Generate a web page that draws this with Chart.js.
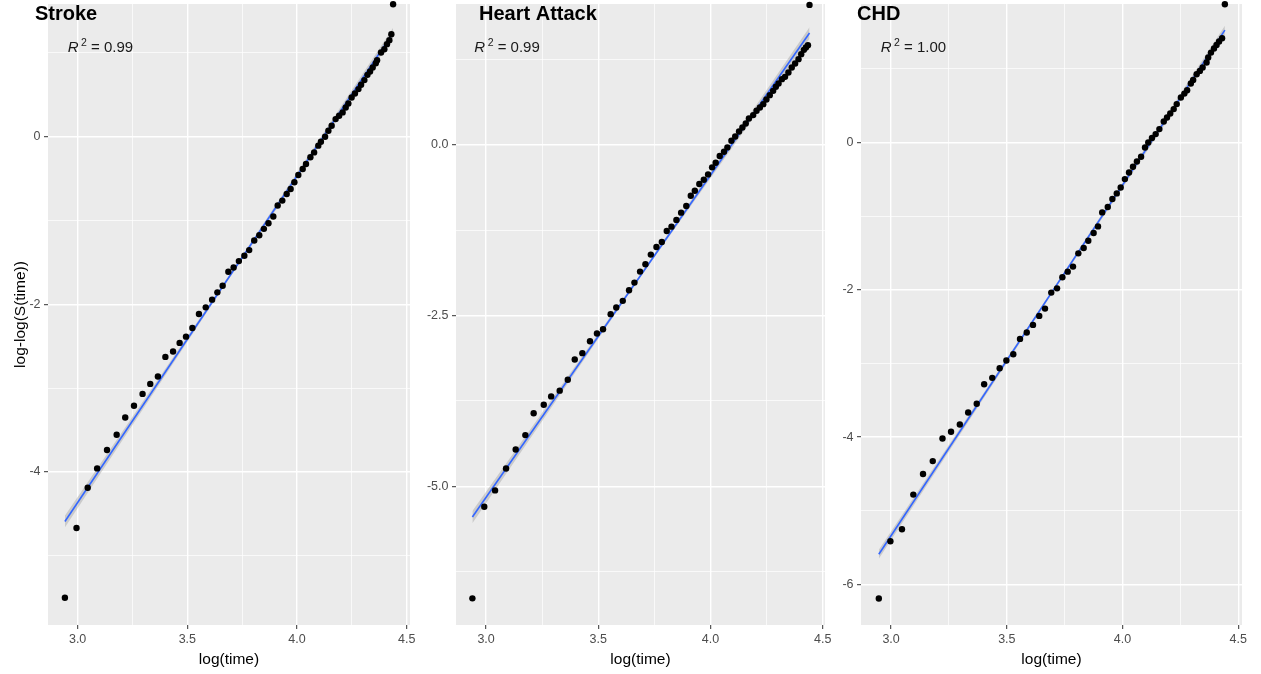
<!DOCTYPE html>
<html><head><meta charset="utf-8">
<script src="https://cdn.jsdelivr.net/npm/chart.js@4.4.1/dist/chart.umd.min.js"></script>
<style>
html,body{margin:0;padding:0;background:#fff;}
#wrap{position:relative;width:1261px;height:674px;overflow:hidden;background:#fff;}
canvas{position:absolute;left:0;top:0;}
</style></head><body>
<div id="wrap">
<canvas id="c1" width="1261" height="674"></canvas>
<canvas id="c2" width="1261" height="674"></canvas>
<canvas id="c3" width="1261" height="674"></canvas>
</div>
<script>
// ---------------- DATA ----------------
const panelTitles = ['Stroke', 'Heart Attack', 'CHD'];
const r2Values = ['0.99', '0.99', '1.00'];
const xAxisTitle = 'log(time)';
const yAxisTitle = 'log-log(S(time))';

const xTickMajor = [3.0, 3.5, 4.0, 4.5];
const xTickMinor = [3.25, 3.75, 4.25];
const xTickLabels = ['3.0', '3.5', '4.0', '4.5'];

const strokeYMajor = [-4, -2, 0];
const strokeYMinor = [-5, -3, -1, 1];
const strokeYLabels = ['-4', '-2', '0'];
const heartYMajor = [-5, -2.5, 0];
const heartYMinor = [-6.25, -3.75, -1.25, 1.25];
const heartYLabels = ['-5.0', '-2.5', '0.0'];
const chdYMajor = [-6, -4, -2, 0];
const chdYMinor = [-5, -3, -1, 1];
const chdYLabels = ['-6', '-4', '-2', '0'];

const strokeX = [2.942,2.995,3.046,3.089,3.134,3.178,3.217,3.257,3.296,3.331,3.366,3.400,3.435,3.465,3.494,3.523,3.553,3.584,3.613,3.637,3.661,3.687,3.711,3.735,3.760,3.782,3.805,3.828,3.849,3.870,3.892,
  3.912,3.933,3.953,3.971,3.988,4.006,4.026,4.041,4.061,4.078,4.097,4.109,4.128,4.143,4.158,4.176,4.192,4.208,4.222,4.234,4.249,4.264,4.280,4.292,4.307,4.321,4.333,4.345,4.359,4.365,4.383,4.398,4.410,4.421,4.430,4.438];
const strokeY = [-5.50,-4.667,-4.187,-3.957,-3.738,-3.556,-3.349,-3.21,-3.068,-2.949,-2.861,-2.627,-2.563,-2.460,-2.385,-2.282,-2.115,-2.036,-1.944,-1.857,-1.778,-1.611,-1.56,-1.484,-1.42,-1.353,-1.238,-1.175,-1.099,-1.032,-0.952,
  -0.821,-0.762,-0.683,-0.623,-0.544,-0.456,-0.385,-0.325,-0.246,-0.187,-0.107,-0.06,0.0,0.071,0.131,0.21,0.25,0.29,0.349,0.396,0.468,0.516,0.568,0.619,0.675,0.738,0.778,0.825,0.877,0.913,1.004,1.044,1.104,1.151,1.223,1.58];

const heartX = [2.939,2.992,3.040,3.089,3.132,3.175,3.212,3.257,3.290,3.328,3.364,3.395,3.429,3.463,3.494,3.521,3.555,3.580,3.609,3.637,3.661,3.686,3.710,3.734,3.759,3.783,3.805,3.826,3.848,3.869,3.892,
  3.912,3.930,3.950,3.970,3.989,4.007,4.023,4.041,4.060,4.075,4.093,4.110,4.127,4.142,4.157,4.171,4.190,4.205,4.220,4.235,4.249,4.264,4.279,4.291,4.303,4.318,4.332,4.347,4.362,4.377,4.392,4.404,4.416,4.425,4.434,4.441];
const heartY = [-6.64,-5.30,-5.06,-4.74,-4.46,-4.25,-3.93,-3.806,-3.684,-3.60,-3.44,-3.143,-3.051,-2.876,-2.763,-2.70,-2.48,-2.383,-2.285,-2.13,-2.018,-1.857,-1.75,-1.608,-1.496,-1.423,-1.262,-1.199,-1.10,-0.994,-0.896,
  -0.746,-0.673,-0.575,-0.512,-0.434,-0.331,-0.263,-0.165,-0.102,-0.039,0.058,0.121,0.194,0.253,0.311,0.384,0.434,0.497,0.545,0.594,0.662,0.726,0.789,0.848,0.896,0.96,0.994,1.057,1.13,1.189,1.253,1.326,1.389,1.423,1.458,2.047];

const chdX = [2.947,2.997,3.047,3.096,3.138,3.180,3.222,3.259,3.297,3.333,3.370,3.402,3.437,3.469,3.498,3.528,3.557,3.586,3.613,3.640,3.665,3.692,3.717,3.740,3.763,3.786,3.809,3.832,3.852,3.875,3.894,3.912,3.936,
  3.956,3.975,3.992,4.010,4.028,4.045,4.062,4.080,4.097,4.111,4.127,4.143,4.159,4.178,4.192,4.206,4.221,4.234,4.252,4.267,4.279,4.295,4.305,4.320,4.334,4.346,4.363,4.370,4.382,4.395,4.406,4.417,4.430,4.442];
const chdY = [-6.19,-5.414,-5.25,-4.78,-4.50,-4.325,-4.018,-3.927,-3.828,-3.665,-3.547,-3.281,-3.195,-3.064,-2.96,-2.874,-2.666,-2.58,-2.476,-2.354,-2.255,-2.038,-1.98,-1.83,-1.753,-1.685,-1.505,-1.432,-1.333,-1.229,-1.139,-0.949,-0.876,
  -0.768,-0.691,-0.61,-0.497,-0.407,-0.33,-0.258,-0.194,-0.068,0.0,0.06,0.114,0.182,0.285,0.339,0.393,0.453,0.521,0.61,0.664,0.71,0.8,0.85,0.927,0.972,1.017,1.085,1.153,1.22,1.275,1.325,1.37,1.416,1.877];

// fitted lines and their confidence bands
const strokeFitX = [2.942, 4.438];
const strokeFitY = [-4.59, 1.24];
const strokeBandX = [2.942, 3.69, 4.438];
const strokeBandHi = [-4.52, -1.655, 1.30];
const strokeBandLo = [-4.66, -1.695, 1.18];

const heartFitX = [2.939, 4.441];
const heartFitY = [-5.45, 1.636];
const heartBandX = [2.939, 3.69, 4.441];
const heartBandHi = [-5.36, -1.885, 1.72];
const heartBandLo = [-5.54, -1.925, 1.55];

const chdFitX = [2.947, 4.442];
const chdFitY = [-5.59, 1.526];
const chdBandX = [2.947, 3.695, 4.442];
const chdBandHi = [-5.53, -2.012, 1.586];
const chdBandLo = [-5.65, -2.052, 1.466];

// ---------------- DRAWING ----------------
const FONT = "'Liberation Sans', Arial, Helvetica, sans-serif";
const pts = (xs, ys) => xs.map((x, i) => ({x: x, y: ys[i]}));

const decor = {
  id: 'decor',
  beforeDraw(chart, args, o) {
    const {ctx, chartArea: a} = chart;
    ctx.save();
    ctx.fillStyle = '#EBEBEB';
    ctx.fillRect(a.left, a.top, a.right - a.left, a.bottom - a.top);
    ctx.restore();
  },
  afterDraw(chart, args, o) {
    const ctx = chart.ctx;
    ctx.save();
    ctx.textAlign = 'left';
    ctx.textBaseline = 'alphabetic';
    ctx.fillStyle = '#000';
    ctx.font = 'bold 20px ' + FONT;
    ctx.fillText(o.title, o.titleX, 20);
    let x = o.rX;
    const base = 52;
    ctx.fillStyle = '#1a1a1a';
    ctx.font = 'italic 15px ' + FONT;
    ctx.fillText('R', x, base);
    x += ctx.measureText('R').width + 2.5;
    ctx.font = '10.5px ' + FONT;
    ctx.fillText('2', x, base - 6);
    x += ctx.measureText('2').width;
    ctx.font = '15px ' + FONT;
    ctx.fillText(' = ' + o.r2, x, base);
    ctx.restore();
  }
};

function axisCfg(opts) {
  const all = opts.major.concat(opts.minor).sort((a, b) => a - b);
  const isMajor = v => opts.major.indexOf(v) >= 0;
  return {
    type: 'linear',
    min: opts.min,
    max: opts.max,
    afterBuildTicks: s => { s.ticks = all.map(v => ({value: v})); },
    afterFit: s => {
      if (opts.axis === 'x') { s.height = opts.size; s.paddingLeft = 0; s.paddingRight = 0; }
      else { s.width = opts.size; s.paddingTop = 0; s.paddingBottom = 0; }
    },
    border: {display: false},
    grid: {
      color: '#FFFFFF',
      lineWidth: c => (c.tick && isMajor(c.tick.value)) ? 1.4 : 0.7,
      drawTicks: true,
      tickLength: 4,
      tickWidth: 1,
      tickColor: c => (c.tick && isMajor(c.tick.value)) ? '#333333' : 'rgba(0,0,0,0)'
    },
    ticks: {
      autoSkip: false,
      maxRotation: 0,
      minRotation: 0,
      padding: 3.5,
      color: '#4D4D4D',
      font: {family: FONT, size: 12.5},
      callback: v => { const i = opts.major.indexOf(v); return i >= 0 ? opts.labels[i] : ''; }
    },
    title: opts.title ? {
      display: true, text: opts.title, color: '#000',
      font: {family: FONT, size: 15.5},
      padding: opts.titlePad
    } : {display: false}
  };
}

function makePanel(id, p) {
  new Chart(document.getElementById(id), {
    type: 'scatter',
    data: {
      datasets: [
        {data: pts(p.x, p.y), pointRadius: 3.2, pointBackgroundColor: '#000', pointBorderWidth: 0, clip: false, order: 0},
        {data: pts(p.fitX, p.fitY), showLine: true, borderColor: '#3366FF', borderWidth: 1.6, pointRadius: 0, order: 1},
        {data: pts(p.bandX, p.bandHi), showLine: true, borderColor: 'rgba(0,0,0,0)', borderWidth: 0, pointRadius: 0, fill: '+1', backgroundColor: 'rgba(153,153,153,0.4)', order: 2},
        {data: pts(p.bandX, p.bandLo), showLine: true, borderColor: 'rgba(0,0,0,0)', borderWidth: 0, pointRadius: 0, order: 3}
      ]
    },
    options: {
      responsive: false,
      animation: false,
      events: [],
      layout: {padding: {left: p.padL, right: p.padR, top: 3, bottom: 0}},
      plugins: {
        legend: {display: false},
        tooltip: {enabled: false},
        decor: {title: p.title, titleX: p.titleX, r2: p.r2, rX: p.rX}
      },
      scales: {
        x: axisCfg({axis: 'x', min: p.xmin, max: p.xmax, major: xTickMajor, minor: xTickMinor, labels: xTickLabels, size: 49,
                    title: xAxisTitle, titlePad: {top: 0, bottom: 4.5}}),
        y: axisCfg({axis: 'y', min: p.ymin, max: p.ymax, major: p.yMajor, minor: p.yMinor, labels: p.yLabels, size: p.yW,
                    title: p.yTitle, titlePad: {top: 11, bottom: 0}})
      }
    },
    plugins: [decor]
  });
}

makePanel('c1', {x: strokeX, y: strokeY, fitX: strokeFitX, fitY: strokeFitY, bandX: strokeBandX, bandHi: strokeBandHi, bandLo: strokeBandLo,
  xmin: 2.865, xmax: 4.515, ymin: -5.825, ymax: 1.583, yMajor: strokeYMajor, yMinor: strokeYMinor, yLabels: strokeYLabels,
  padL: 0, yW: 48, padR: 1261 - 410, yTitle: yAxisTitle, title: panelTitles[0], titleX: 35, r2: r2Values[0], rX: 67.7});
makePanel('c2', {x: heartX, y: heartY, fitX: heartFitX, fitY: heartFitY, bandX: heartBandX, bandHi: heartBandHi, bandLo: heartBandLo,
  xmin: 2.866, xmax: 4.510, ymin: -7.03, ymax: 2.06, yMajor: heartYMajor, yMinor: heartYMinor, yLabels: heartYLabels,
  padL: 400, yW: 56, padR: 1261 - 825, yTitle: null, title: panelTitles[1], titleX: 479, r2: r2Values[1], rX: 474.3});
makePanel('c3', {x: chdX, y: chdY, fitX: chdFitX, fitY: chdFitY, bandX: chdBandX, bandHi: chdBandHi, bandLo: chdBandLo,
  xmin: 2.870, xmax: 4.516, ymin: -6.55, ymax: 1.88, yMajor: chdYMajor, yMinor: chdYMinor, yLabels: chdYLabels,
  padL: 820, yW: 41, padR: 1261 - 1242, yTitle: null, title: panelTitles[2], titleX: 857, r2: r2Values[2], rX: 880.7});
</script>
</body></html>
